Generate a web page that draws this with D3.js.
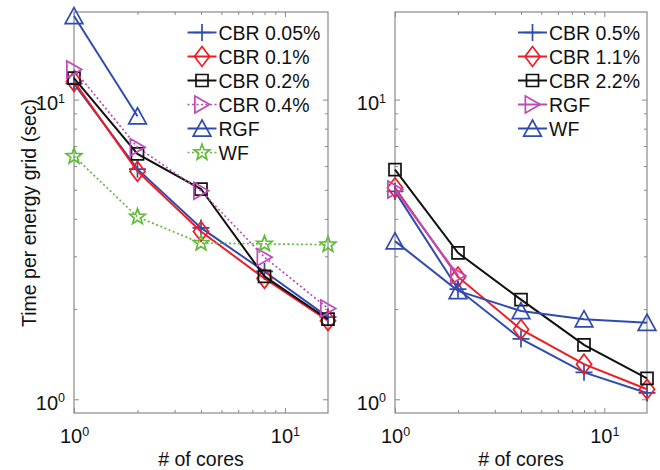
<!DOCTYPE html>
<html>
<head>
<meta charset="utf-8">
<script src="https://cdn.jsdelivr.net/npm/d3@7"></script>
<style>
  body { margin: 0; background: #fff; }
  svg text { font-family: "Liberation Sans", Arial, Helvetica, sans-serif; fill: #111; }
</style>
</head>
<body>
<div id="chart"></div>
<script>
// data
const cores = [1, 2, 4, 8, 16];
const coresShort = [1, 2];

// left panel
const cbr005 = [11.3, 5.86, 3.73, 2.67, 1.88];
const cbr01 = [11.5, 5.76, 3.63, 2.53, 1.83];
const cbr02 = [11.8, 6.59, 5.03, 2.57, 1.85];
const cbr04 = [12.6, 6.93, 4.96, 2.98, 2.01];
const rgfLeft = [19.0, 8.8];
const wfLeft = [6.47, 4.06, 3.32, 3.30, 3.28];

// right panel
const cbr05 = [4.94, 2.33, 1.59, 1.23, 1.05];
const cbr11 = [5.08, 2.56, 1.71, 1.31, 1.08];
const cbr22 = [5.84, 3.08, 2.15, 1.52, 1.175];
const rgfRight = [5.01, 2.59];
const wfRight = [3.37, 2.30, 1.97, 1.85, 1.80];

const majorTicks = [1, 10];
const minorX = [2, 3, 4, 5, 6, 7, 8, 9];
const minorY = [2, 3, 4, 5, 6, 7, 8, 9];

const BLUE = "#2f4bb0", RED = "#f01c24", BLACK = "#111", MAGENTA = "#c04ab8", GREEN = "#62bb3a";

const W = 660, H = 470;
const svg = d3.select("#chart").append("svg")
    .attr("width", W).attr("height", H);

const y = d3.scaleLog().domain([0.9, 19.6]).range([413, 12]);

// marker shapes (path strings around 0,0)
const markers = {
  plus: s => `M${-s/2},0H${s/2}M0,${-s/2}V${s/2}`,
  diamond: s => `M0,${-s*0.55}L${s*0.42},0L0,${s*0.55}L${-s*0.42},0Z`,
  square: s => `M${-s*0.4},${-s*0.4}H${s*0.4}V${s*0.4}H${-s*0.4}Z`,
  triUp: s => `M0,${-s*0.5}L${s*0.52},${s*0.45}L${-s*0.52},${s*0.45}Z`,
  triRight: s => `M${s*0.45},0L${-s*0.42},${-s*0.5}L${-s*0.42},${s*0.5}Z`,
  star: s => {
    let p = [];
    for (let i = 0; i < 10; i++) {
      let r = i % 2 === 0 ? s*0.55 : s*0.23;
      let a = -Math.PI/2 + i * Math.PI/5;
      p.push([r*Math.cos(a), r*Math.sin(a)]);
    }
    return "M" + p.map(d => d.join(",")).join("L") + "Z";
  }
};

function panel(x0, x1, series) {
  const x = d3.scaleLog().domain([1, 16]).range([x0, x1]);
  const g = svg.append("g");

  // box
  g.append("rect")
    .attr("x", x0).attr("y", y.range()[1])
    .attr("width", x1 - x0).attr("height", y.range()[0] - y.range()[1])
    .attr("fill", "none").attr("stroke", "#8a8a8a").attr("stroke-width", 1.2);

  function superLabels(sel) {
    sel.selectAll(".tick text").each(function(d) {
      const t = d3.select(this);
      t.text("10");
      t.append("tspan").attr("dy", "-0.6em").attr("font-size", "12.5px")
        .text(Math.round(Math.log10(d)));
    });
  }
  function clean(sel) {
    sel.select(".domain").remove();
    sel.selectAll(".tick line").attr("stroke", "#8a8a8a");
  }

  // bottom axis
  g.append("g").attr("transform", `translate(0,${y.range()[0]})`)
    .call(d3.axisBottom(x).tickValues(majorTicks).tickSize(-5).tickPadding(16))
    .call(clean)
    .call(s => s.selectAll(".tick text").attr("font-size", "20px"))
    .call(superLabels);
  g.append("g").attr("transform", `translate(0,${y.range()[0]})`)
    .call(d3.axisBottom(x).tickValues(minorX).tickSize(-3).tickFormat(""))
    .call(clean);
  // top axis
  g.append("g").attr("transform", `translate(0,${y.range()[1]})`)
    .call(d3.axisTop(x).tickValues(majorTicks).tickSize(-5).tickFormat(""))
    .call(clean);
  g.append("g").attr("transform", `translate(0,${y.range()[1]})`)
    .call(d3.axisTop(x).tickValues(minorX).tickSize(-3).tickFormat(""))
    .call(clean);
  // left axis
  g.append("g").attr("transform", `translate(${x0},0)`)
    .call(d3.axisLeft(y).tickValues(majorTicks).tickSize(-5).tickPadding(9))
    .call(clean)
    .call(s => s.selectAll(".tick text").attr("font-size", "20px").attr("dy", "0.5em"))
    .call(superLabels);
  g.append("g").attr("transform", `translate(${x0},0)`)
    .call(d3.axisLeft(y).tickValues(minorY).tickSize(-3).tickFormat(""))
    .call(clean);
  // right axis
  g.append("g").attr("transform", `translate(${x1},0)`)
    .call(d3.axisRight(y).tickValues(majorTicks).tickSize(-5).tickFormat(""))
    .call(clean);
  g.append("g").attr("transform", `translate(${x1},0)`)
    .call(d3.axisRight(y).tickValues(minorY).tickSize(-3).tickFormat(""))
    .call(clean);

  // x label
  g.append("text")
    .attr("x", (x0 + x1) / 2).attr("y", 466)
    .attr("text-anchor", "middle").attr("font-size", "19.5px")
    .text("# of cores");

  const line = d3.line().x(d => x(d[0])).y(d => y(d[1]));

  series.forEach(s => {
    const pts = s.xs.map((c, i) => [c, s.values[i]]);
    g.append("path").datum(pts)
      .attr("d", line)
      .attr("fill", "none").attr("stroke", s.color)
      .attr("stroke-width", s.dash ? 1.7 : 2)
      .attr("stroke-dasharray", s.dash ? "2,2.5" : null);
    g.selectAll(null).data(pts).enter().append("path")
      .attr("transform", d => `translate(${x(d[0])},${y(d[1])})`)
      .attr("d", markers[s.marker](s.size))
      .attr("fill", "none").attr("stroke", s.color).attr("stroke-width", 1.7);
  });

  // legend
  const lx = series.legendX, ly0 = 32.5, dy = 24;
  series.forEach((s, i) => {
    const yy = ly0 + i * dy;
    g.append("line")
      .attr("x1", lx).attr("x2", lx + 29).attr("y1", yy).attr("y2", yy)
      .attr("stroke", s.color).attr("stroke-width", s.dash ? 1.7 : 2)
      .attr("stroke-dasharray", s.dash ? "2,2.5" : null);
    g.append("path")
      .attr("transform", `translate(${lx + 14.5},${yy})`)
      .attr("d", markers[s.marker](s.size))
      .attr("fill", "none").attr("stroke", s.color).attr("stroke-width", 1.7);
    g.append("text")
      .attr("x", lx + 31).attr("y", yy + 7)
      .attr("font-size", "19.5px")
      .text(s.name);
  });
}

const leftSeries = [
  {name: "CBR 0.05%", xs: cores, values: cbr005, color: BLUE, marker: "plus", size: 17},
  {name: "CBR 0.1%", xs: cores, values: cbr01, color: RED, marker: "diamond", size: 18},
  {name: "CBR 0.2%", xs: cores, values: cbr02, color: BLACK, marker: "square", size: 15},
  {name: "CBR 0.4%", xs: cores, values: cbr04, color: MAGENTA, marker: "triRight", size: 17, dash: true},
  {name: "RGF", xs: coresShort, values: rgfLeft, color: BLUE, marker: "triUp", size: 17},
  {name: "WF", xs: cores, values: wfLeft, color: GREEN, marker: "star", size: 15, dash: true}
];
leftSeries.legendX = 187.5;

const rightSeries = [
  {name: "CBR 0.5%", xs: cores, values: cbr05, color: BLUE, marker: "plus", size: 17},
  {name: "CBR 1.1%", xs: cores, values: cbr11, color: RED, marker: "diamond", size: 18},
  {name: "CBR 2.2%", xs: cores, values: cbr22, color: BLACK, marker: "square", size: 15},
  {name: "RGF", xs: coresShort, values: rgfRight, color: MAGENTA, marker: "triRight", size: 17},
  {name: "WF", xs: cores, values: wfRight, color: BLUE, marker: "triUp", size: 17}
];
rightSeries.legendX = 518;

panel(74, 328, leftSeries);
panel(395, 647, rightSeries);

// y label
svg.append("text")
  .attr("transform", `translate(36,213) rotate(-90)`)
  .attr("text-anchor", "middle").attr("font-size", "19.5px")
  .text("Time per energy grid (sec)");
</script>
</body>
</html>
